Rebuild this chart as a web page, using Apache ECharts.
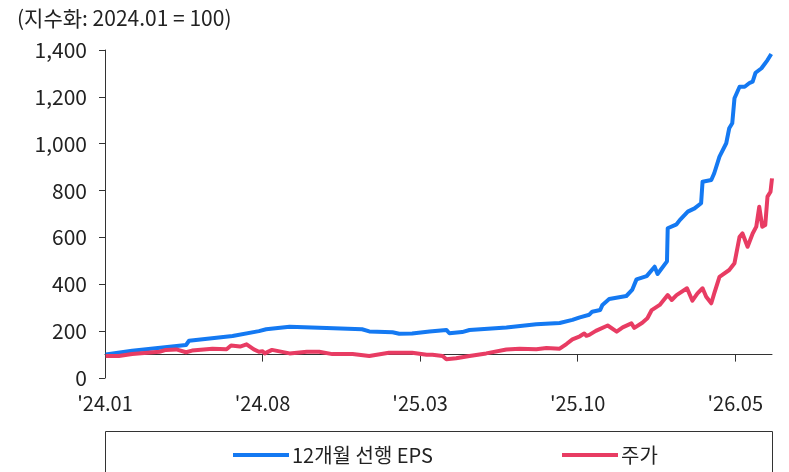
<!DOCTYPE html>
<html>
<head>
<meta charset="utf-8">
<script src="https://cdn.jsdelivr.net/npm/echarts@6/dist/echarts.min.js"></script>
<style>
  html, body { margin: 0; padding: 0; background: #fff; }
  #chart { width: 789px; height: 472px; }
</style>
</head>
<body>
<div id="chart"></div>
<script>
// 12-month forward EPS index (2024.01 = 100)
const epsDates = [
  '2024-01-02','2024-02-07','2024-04-19','2024-04-21','2024-04-23','2024-06-21','2024-07-27','2024-08-06',
  '2024-09-07','2024-10-27','2024-12-14','2024-12-24','2025-01-25','2025-02-03','2025-02-19','2025-03-14',
  '2025-04-06','2025-04-10','2025-04-27','2025-05-07','2025-06-26','2025-08-06','2025-09-07','2025-09-24',
  '2025-10-04','2025-10-17','2025-10-21','2025-11-01','2025-11-04','2025-11-13','2025-12-06','2025-12-14',
  '2025-12-20','2026-01-03','2026-01-14','2026-01-18','2026-01-31','2026-02-01','2026-02-12','2026-02-16',
  '2026-02-26','2026-03-07','2026-03-16','2026-03-18','2026-03-30','2026-04-03','2026-04-10','2026-04-19',
  '2026-04-23','2026-04-27','2026-04-30','2026-05-07','2026-05-14','2026-05-21','2026-05-25','2026-05-29',
  '2026-06-06','2026-06-14','2026-06-19'
];
const epsValues = [
  100, 116, 141, 143, 159, 179, 200, 208,
  219, 213, 208, 199, 195, 189, 190, 198,
  205, 191, 196, 205, 216, 229, 235, 248,
  259, 270, 283, 290, 312, 337, 350, 376,
  421, 435, 475, 444, 498, 639, 656, 674,
  710, 724, 746, 838, 845, 874, 945, 1002,
  1066, 1087, 1194, 1243, 1243, 1260, 1265, 1303,
  1322, 1357, 1383
];

// Share price index (2024.01 = 100)
const priceDates = [
  '2024-01-02','2024-01-20','2024-02-07','2024-03-14','2024-03-23','2024-04-06','2024-04-19','2024-04-27',
  '2024-05-25','2024-06-13','2024-06-19','2024-07-01','2024-07-10','2024-07-20','2024-07-27','2024-08-01',
  '2024-08-04','2024-08-14','2024-09-07','2024-09-30','2024-10-17','2024-11-04','2024-12-01','2024-12-24',
  '2025-01-20','2025-02-19','2025-03-10','2025-03-18','2025-04-01','2025-04-06','2025-04-19','2025-05-07',
  '2025-05-30','2025-06-26','2025-07-14','2025-08-06','2025-08-20','2025-09-07','2025-09-16','2025-09-24',
  '2025-10-04','2025-10-10','2025-10-13','2025-10-17','2025-10-26','2025-11-11','2025-11-23','2025-12-01',
  '2025-12-13','2025-12-17','2025-12-28','2026-01-04','2026-01-10','2026-01-21','2026-02-01','2026-02-06',
  '2026-02-12','2026-02-25','2026-03-04','2026-03-11','2026-03-18','2026-03-23','2026-03-30','2026-04-03',
  '2026-04-10','2026-04-23','2026-04-30','2026-05-07','2026-05-11','2026-05-18','2026-05-25','2026-05-30',
  '2026-06-03','2026-06-07','2026-06-11','2026-06-14','2026-06-18','2026-06-20'
];
const priceValues = [
  94, 94, 102, 112, 120, 122, 110, 117,
  125, 123, 139, 134, 144, 122, 112, 114,
  105, 120, 105, 112, 112, 102, 102, 94,
  108, 108, 99, 99, 94, 80, 84, 94,
  105, 122, 125, 123, 128, 125, 145, 165,
  178, 190, 180, 184, 201, 224, 198, 216,
  233, 214, 236, 255, 290, 312, 354, 333,
  354, 383, 330, 361, 383, 347, 319, 361,
  432, 461, 490, 603, 617, 560, 617, 646,
  731, 646, 653, 774, 795, 852
];

const tickDates = ['2024-01-01', '2024-08-01', '2025-03-01', '2025-10-01', '2026-05-01'];
const tickLabels = ["'24.01", "'24.08", "'25.03", "'25.10", "'26.05"];
const axisEnd = '2026-06-20';

// Position on the time scale, in months since 2024.01
function monthPos(s) {
  const [y, m, d] = s.split('-').map(Number);
  const dim = new Date(y, m, 0).getDate();
  return (y - 2024) * 12 + (m - 1) + (d - 1) / dim;
}
const pairs = (ds, vs) => ds.map((d, i) => [monthPos(d), vs[i]]);
const tickPos = tickDates.map(monthPos);
const xMax = monthPos(axisEnd);

const FONT = "'Noto Sans CJK KR', 'Noto Sans', sans-serif";
const BLUE = '#1479f2';
const RED = '#e83c63';

const chart = echarts.init(document.getElementById('chart'), null, { renderer: 'canvas' });
chart.setOption({
  animation: false,
  backgroundColor: '#fff',
  title: {
    text: '(지수화: 2024.01 = 100)',
    left: 12, top: 3,
    textStyle: { fontFamily: FONT, fontSize: 21, fontWeight: 'normal', color: '#222' }
  },
  grid: { left: 105, right: 17, top: 50, bottom: 94 },
  xAxis: [
    {
      type: 'value', min: 0, max: xMax,
      axisLine: { show: false },
      axisTick: { show: false },
      splitLine: { show: false },
      axisLabel: {
        customValues: tickPos,
        margin: 15,
        fontFamily: FONT, fontSize: 20, color: '#222',
        formatter: v => {
          const i = tickPos.findIndex(p => Math.abs(p - v) < 1e-6);
          return i >= 0 ? tickLabels[i] : '';
        }
      }
    },
    {
      // baseline drawn at index level 100
      type: 'value', min: 0, max: xMax, position: 'bottom', offset: -23.4,
      axisLine: { show: true, onZero: false, lineStyle: { color: '#333', width: 1 } },
      axisTick: { show: true, customValues: tickPos, length: 7, lineStyle: { color: '#333' } },
      axisLabel: { show: false },
      splitLine: { show: false }
    }
  ],
  yAxis: {
    type: 'value', min: 0, max: 1400, interval: 200,
    axisLine: { show: true, lineStyle: { color: '#333', width: 1 } },
    axisTick: { show: true, length: 6, lineStyle: { color: '#333' } },
    splitLine: { show: false },
    axisLabel: {
      margin: 18,
      fontFamily: FONT, fontSize: 21, color: '#222',
      formatter: v => v.toLocaleString('en-US')
    }
  },
  legend: [
    {
      data: ['12개월 선행 EPS'], left: 228, top: 440,
      icon: 'rect', itemWidth: 56, itemHeight: 4, itemGap: 4,
      textStyle: { fontFamily: FONT, fontSize: 20, color: '#222', padding: [0, 0, 0, -2] }
    },
    {
      data: ['주가'], left: 557, top: 440,
      icon: 'rect', itemWidth: 56, itemHeight: 4, itemGap: 4,
      textStyle: { fontFamily: FONT, fontSize: 20, color: '#222', padding: [0, 0, 0, -2] }
    }
  ],
  graphic: [
    {
      type: 'rect', silent: true,
      shape: { x: 105.5, y: 431.5, width: 667, height: 60 },
      style: { fill: 'none', stroke: '#333', lineWidth: 1 }
    }
  ],
  series: [
    {
      name: '12개월 선행 EPS', type: 'line', data: pairs(epsDates, epsValues),
      showSymbol: false, symbol: 'none',
      lineStyle: { color: BLUE, width: 4, join: 'round' },
      itemStyle: { color: BLUE }
    },
    {
      name: '주가', type: 'line', data: pairs(priceDates, priceValues),
      showSymbol: false, symbol: 'none',
      lineStyle: { color: RED, width: 4, join: 'round' },
      itemStyle: { color: RED }
    }
  ]
});
</script>
</body>
</html>
